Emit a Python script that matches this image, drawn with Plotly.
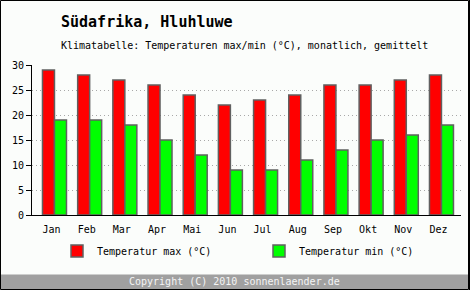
import plotly.graph_objects as go

months = ["Jan", "Feb", "Mar", "Apr", "Mai", "Jun", "Jul", "Aug", "Sep", "Okt", "Nov", "Dez"]
temp_max = [29, 28, 27, 26, 24, 22, 23, 24, 26, 26, 27, 28]
temp_min = [19, 19, 18, 15, 12, 9, 9, 11, 13, 15, 16, 18]
y_ticks = [0, 5, 10, 15, 20, 25, 30]

W, H = 470, 290
L, R, T, B = 32, 9, 65, 75
PW, PH = W - L - R, H - T - B

def px(x):
    return (x - L) / PW

def py(y):
    return (H - B - y) / PH

FONT = "DejaVu Sans Mono"
BG = "#fbfdfb"

fig = go.Figure()
fig.add_trace(go.Bar(
    x=months, y=temp_max, name="Temperatur max (°C)",
    marker=dict(color="#ff0000", line=dict(color="#606060", width=1.5)),
    width=0.341, offset=-0.256,
))
fig.add_trace(go.Bar(
    x=months, y=temp_min, name="Temperatur min (°C)",
    marker=dict(color="#00ff00", line=dict(color="#606060", width=1.5)),
    width=0.341, offset=0.085,
))

fig.update_layout(
    width=W, height=H,
    margin=dict(l=L, r=R, t=T, b=B, autoexpand=False),
    paper_bgcolor=BG, plot_bgcolor=BG,
    font=dict(family=FONT, size=10, color="#000000"),
    barmode="overlay",
    showlegend=True,
    legend=dict(
        orientation="h", xref="container", yref="container",
        x=(57) / W, xanchor="left", y=1 - 251 / H, yanchor="middle",
        entrywidth=157, entrywidthmode="pixels",
        bgcolor="rgba(0,0,0,0)", font=dict(family=FONT, size=10, color="#000"),
        traceorder="normal",
    ),
    xaxis=dict(
        type="category", range=[-0.554, 11.64],
        showline=True, linecolor="#000", linewidth=1,
        ticks="", showgrid=False, ticklabelstandoff=5, automargin=False,
        tickfont=dict(family=FONT, size=10, color="#000"),
        fixedrange=True,
    ),
    yaxis=dict(
        range=[0, 30], tickvals=y_ticks,
        showline=True, linecolor="#000", linewidth=1,
        ticks="outside", ticklen=5, tickcolor="#000",
        showgrid=True, gridcolor="#a8a8a8", griddash="1px,3px", gridwidth=1,
        zeroline=False, automargin=False,
        tickfont=dict(family=FONT, size=10, color="#000"),
        fixedrange=True,
    ),
)

shapes = [
    # footer bar
    dict(type="rect", xref="paper", yref="paper",
         x0=px(1), x1=px(468), y0=py(289), y1=py(274.5),
         fillcolor="#a0a0a0", line=dict(width=0), layer="above"),
    # outer border
    dict(type="rect", xref="paper", yref="paper",
         x0=px(0.5), x1=px(468.5), y0=py(289.5), y1=py(0.5),
         fillcolor="rgba(0,0,0,0)", line=dict(color="#000", width=1), layer="above"),
    dict(type="line", xref="paper", yref="paper",
         x0=px(469.5), x1=px(469.5), y0=py(290), y1=py(0),
         line=dict(color="#000", width=1), layer="above"),
]
fig.update_layout(shapes=shapes)

annotations = [
    dict(text="<b>Südafrika, Hluhluwe</b>", xref="paper", yref="paper",
         x=px(59), y=py(22), xanchor="left", yanchor="middle", showarrow=False,
         font=dict(family=FONT, size=15, color="#000")),
    dict(text="Klimatabelle: Temperaturen max/min (°C), monatlich, gemittelt",
         xref="paper", yref="paper", x=px(59), y=py(45), xanchor="left", yanchor="middle",
         showarrow=False, font=dict(family=FONT, size=10, color="#000")),
    dict(text="Copyright (C) 2010 sonnenlaender.de", xref="paper", yref="paper",
         x=px(234), y=py(281.5), xanchor="center", yanchor="middle", showarrow=False,
         font=dict(family=FONT, size=10, color="#f4f4f4")),
]
fig.update_layout(annotations=annotations)

fig.write_html("out.html")
